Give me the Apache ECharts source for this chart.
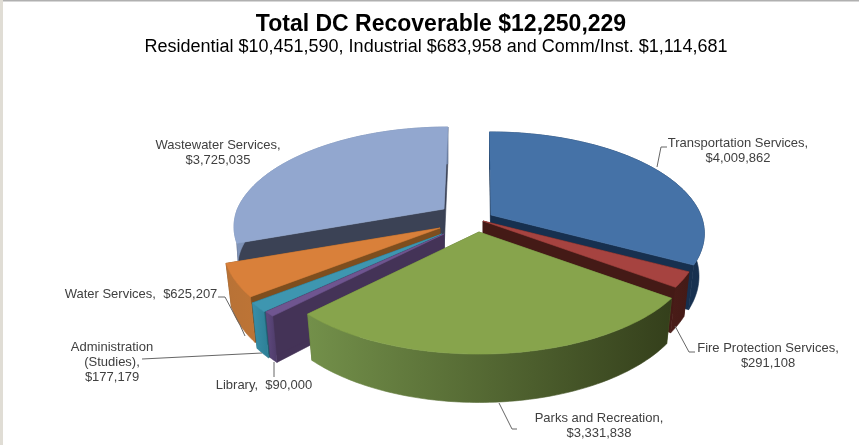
<!DOCTYPE html>
<html>
<head>
<meta charset="utf-8">
<style>html,body{margin:0;padding:0;background:#fff}#chart{width:859px;height:445px}</style>
<script src="https://cdn.jsdelivr.net/npm/echarts@6/dist/echarts.min.js"></script>
</head>
<body>
<div id="chart"></div>
<script>
// Development charge totals by service, clockwise from twelve o'clock.
const services = ['Transportation Services', 'Fire Protection Services', 'Parks and Recreation', 'Library', 'Administration (Studies)', 'Water Services', 'Wastewater Services'];
const amounts = [4009862, 291108, 3331838, 90000, 177179, 625207, 3725035];
const amountLabels = ['$4,009,862', '$291,108', '$3,331,838', '$90,000', '$177,179', '$625,207', '$3,725,035'];

// Painter's order for the wedges: back ones first.
const paintOrder = [6, 0, 5, 4, 3, 1, 2];

// Pie projection: radius, vertical squash, perspective strength, slab thickness.
const RADIUS = 213, SQUASH = 99.6, PERSPECTIVE = 0.184, THICKNESS = 42;
// Horizontal vanishing position and how strongly the far side leans toward it.
const VANISH_X = 478, LEAN = 0.75;

// Tip of each exploded wedge on the canvas, its radius factor and its underside scale.
const tips = [[491, 215], [483, 221], [479, 232], [444, 234], [442, 234], [440, 228], [444, 209]];
const radiusFactors = [0.985, 1, 1, 1, 1, 1, 0.97];
const bottomScales = [0.975, 0.975, 0.975, 0.975, 0.975, 0.975, 0.985];

const palette = [
  { top: '#4572a7', rim: ['#1c3a5e', '#17304f'], wall: '#17304f' },
  { top: '#a64340', rim: ['#4a1c18', '#431a16'], wall: '#441a16' },
  { top: '#87a44c', rim: ['#73904a', '#343f1b'], wall: '#55692c' },
  { top: '#6f5590', rim: ['#604a80', '#4d3b68'], wall: '#443357' },
  { top: '#3e96b0', rim: ['#3a8fa8', '#2c7f96'], wall: '#1f5f70' },
  { top: '#d9803a', rim: ['#b87236', '#bd7436'], wall: '#7e4e1e' },
  { top: '#92a7cf', rim: ['#7f93b8', '#6f83a8'], wall: '#3b4255' }
];

// Label anchors and leader polylines for each wedge.
const labelSpots = [
  { x: 738, y: 150.5, text: i => services[i] + ',\n' + amountLabels[i], line: [[657, 167], [661, 147], [667, 147]] },
  { x: 768, y: 355.5, text: i => services[i] + ',\n' + amountLabels[i], line: [[675, 326], [689, 352], [695, 352]] },
  { x: 599, y: 426, text: i => services[i] + ',\n' + amountLabels[i], line: [[499, 403], [512, 429], [517, 429]] },
  { x: 264, y: 385.5, text: i => services[i] + ',  ' + amountLabels[i], line: [[274, 362], [274, 377]] },
  { x: 112, y: 362.5, text: i => 'Administration\n(Studies),\n' + amountLabels[i], line: [[142, 359], [262, 353]] },
  { x: 141, y: 294.5, text: i => services[i] + ',  ' + amountLabels[i], line: [[218, 297], [225, 297], [240, 325], [245, 336]] },
  { x: 218, y: 153, text: i => services[i] + ',\n' + amountLabels[i], line: null }
];

const grandTotal = amounts.reduce((a, b) => a + b, 0);
const spans = [];
amounts.reduce((acc, v, i) => {
  const next = acc + v / grandTotal * Math.PI * 2;
  spans[i] = [acc, next];
  return next;
}, 0);

// Offset from the wedge tip of a point at angle t and fractional radius r.
function project(i, t, r) {
  const f = radiusFactors[i] * r;
  const u = Math.sin(t) * f, v = Math.cos(t) * f;
  const s = 1 / (1 + PERSPECTIVE * v);
  const lean = (tips[i][0] - VANISH_X) * Math.min(s - 1, 0) * LEAN;
  return { dx: RADIUS * u * s + lean, dy: -SQUASH * v * s, s: s };
}
function topPoint(i, t, r) {
  const p = project(i, t, r);
  return [tips[i][0] + p.dx, tips[i][1] + p.dy];
}
function lowPoint(i, t, r) {
  const p = project(i, t, r);
  return [tips[i][0] + p.dx * bottomScales[i], tips[i][1] + p.dy * bottomScales[i] + THICKNESS * p.s];
}
function arc(fn, i, a, b) {
  const pts = [], n = Math.max(2, Math.ceil(Math.abs(b - a) / 0.02));
  for (let k = 0; k <= n; k++) pts.push(fn(i, a + (b - a) * k / n, 1));
  return pts;
}
// Filled polygon with a hairline of its own colour, which closes seams between faces.
function poly(points, fill) {
  return { type: 'polygon', shape: { points: points }, style: { fill: fill, stroke: fill, lineWidth: 0.6 } };
}

function drawWedge(params, api) {
  const i = api.value(0);
  const span = spans[i], col = palette[i];
  const children = [];

  // Faces cut along the start and end radii.
  [span[0], span[1]].forEach(function (t) {
    children.push(poly([
      topPoint(i, t, 0), topPoint(i, t, 1), lowPoint(i, t, 1), lowPoint(i, t, 0)
    ], col.wall));
  });

  // Outer rim, shaded left to right.
  const upper = arc(topPoint, i, span[0], span[1]);
  const lower = arc(lowPoint, i, span[0], span[1]).reverse();
  const rimFill = new echarts.graphic.LinearGradient(0, 0, 1, 0, [
    { offset: 0, color: col.rim[0] },
    { offset: 1, color: col.rim[1] }
  ]);
  children.push(poly(upper.concat(lower), rimFill));

  // Top face.
  children.push(poly([topPoint(i, span[0], 0)].concat(upper), col.top));

  return { type: 'group', children: children };
}

function drawLabel(params, api) {
  const i = api.value(0);
  const spot = labelSpots[i];
  const children = [];
  if (spot.line) {
    children.push({
      type: 'polyline',
      shape: { points: spot.line },
      style: { stroke: '#666666', lineWidth: 1, fill: 'none' }
    });
  }
  children.push({
    type: 'text',
    style: {
      x: spot.x, y: spot.y, text: spot.text(i),
      font: '13px "Liberation Sans", Arial, sans-serif',
      lineHeight: 15, fill: '#404040', align: 'center', verticalAlign: 'middle'
    }
  });
  return { type: 'group', children: children };
}

const chart = echarts.init(document.getElementById('chart'), null, { renderer: 'canvas' });
chart.setOption({
  animation: false,
  backgroundColor: '#ffffff',
  title: [
    {
      text: 'Total DC Recoverable $12,250,229',
      left: 436, top: 8, textAlign: 'center',
      textStyle: { fontFamily: 'Liberation Sans', fontWeight: 'bold', fontSize: 23, color: '#000000' }
    },
    {
      text: 'Residential $10,451,590, Industrial $683,958 and Comm/Inst. $1,114,681',
      left: 431, top: 33, textAlign: 'center',
      textStyle: { fontFamily: 'Liberation Sans', fontWeight: 'normal', fontSize: 18, color: '#000000' }
    }
  ],
  series: [
    { type: 'custom', coordinateSystem: 'none', silent: true, renderItem: drawWedge, data: paintOrder.map(i => [i]), z: 2 },
    { type: 'custom', coordinateSystem: 'none', silent: true, renderItem: drawLabel, data: paintOrder.map(i => [i]), z: 3 }
  ],
  graphic: [
    { type: 'rect', shape: { x: 0, y: 0, width: 859, height: 1.5 }, style: { fill: '#b0b0b0' }, silent: true },
    { type: 'rect', shape: { x: 0, y: 0, width: 3, height: 445 }, style: { fill: '#e0ddd5' }, silent: true }
  ]
});
</script>
</body>
</html>
